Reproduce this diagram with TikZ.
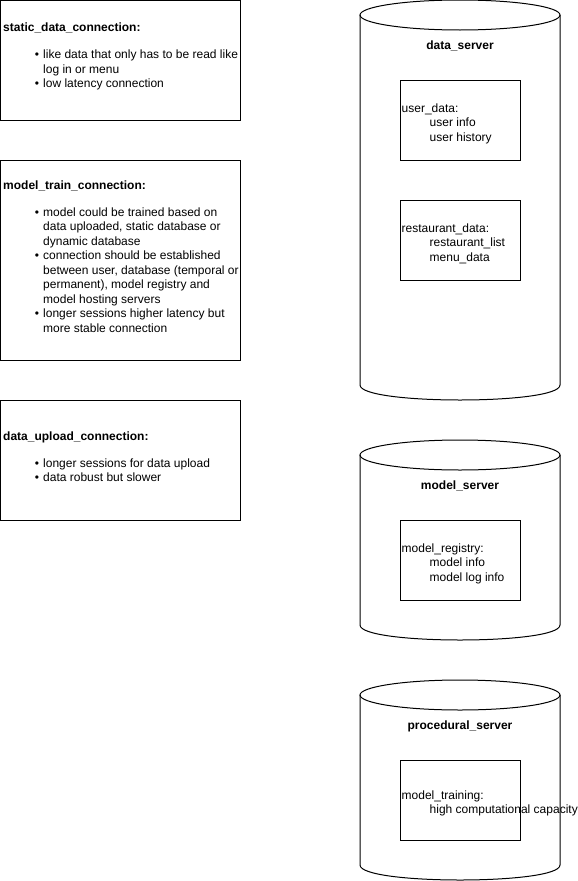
\documentclass[tikz,border=0pt]{standalone}
\usepackage{fontspec}
\setmainfont{Liberation Sans}
\usetikzlibrary{positioning}

\newcommand{\bul}{\makebox[40pt][r]{\textbullet\hspace{4pt}}}
\newcommand{\cont}{\hspace*{40pt}}
\newcommand{\ind}{\hspace*{28pt}}

\begin{document}
\begin{tikzpicture}[
		x=1pt, y=-1pt,
		font=\fontsize{12}{14.5}\selectfont,
		connbox/.style={
			rectangle,
			draw,
			line width=1pt,
			minimum width=240pt,
			minimum height=120pt,
			inner sep=0pt
		},
		conntext/.style={
			align=left,
			inner xsep=3pt,
			inner ysep=0pt,
			yshift=4pt
		},
		server/.style={
			draw,
			line width=1pt
		},
		servername/.style={
			font=\fontsize{12}{14.5}\selectfont\bfseries
		},
		storebox/.style={
			rectangle,
			draw,
			line width=1pt,
			minimum width=120pt,
			minimum height=80pt,
			inner sep=0pt
		},
		storetext/.style={
			align=left,
			inner xsep=2pt,
			inner ysep=0pt,
			yshift=-3.5pt
		}
		]
		
		\useasboundingbox (0,0) rectangle (578,881);
		
		% connection notes
		\node[connbox] (static) at (120.5,60.5) {};
		\node[conntext, anchor=west] (statictxt) at (static.west) {
			\textbf{static\_data\_connection:}\\[12.5pt]
			\bul like data that only has to be read like\\
			\cont log in or menu\\
			\bul low latency connection
		};
		
		\node[connbox, minimum height=200pt] (train) at (120.5,260.5) {};
		\node[conntext, anchor=west] (traintxt) at (train.west) {
			\textbf{model\_train\_connection:}\\[12.5pt]
			\bul model could be trained based on\\
			\cont data uploaded, static database or\\
			\cont dynamic database\\
			\bul connection should be established\\
			\cont between user, database (temporal or\\
			\cont permanent), model registry and\\
			\cont model hosting servers\\
			\bul longer sessions higher latency but\\
			\cont more stable connection
		};
		
		\node[connbox] (upload) at (120.5,460.5) {};
		\node[conntext, anchor=west] (uploadtxt) at (upload.west) {
			\textbf{data\_upload\_connection:}\\[12.5pt]
			\bul longer sessions for data upload\\
			\bul data robust but slower
		};
		
		% servers
		\draw[server] (460,15) ellipse [x radius=100, y radius=15];
		\draw[server] (360,15) -- (360,385) .. controls (360,405) and (560,405) .. (560,385) -- (560,15);
		\node[servername] (dataserver) at (460,46) {data\_server};
		
		\node[storebox] (userdata) at (460,120) {};
		\node[storetext, anchor=west] (userdatatxt) at (userdata.west) {
			user\_data:\\
			\ind user info\\
			\ind user history
		};
		
		\node[storebox] (restdata) at (460,240) {};
		\node[storetext, anchor=west] (restdatatxt) at (restdata.west) {
			restaurant\_data:\\
			\ind restaurant\_list\\
			\ind menu\_data
		};
		
		\draw[server] (460,455) ellipse [x radius=100, y radius=15];
		\draw[server] (360,455) -- (360,625) .. controls (360,645) and (560,645) .. (560,625) -- (560,455);
		\node[servername] (modelserver) at (460,486) {model\_server};
		
		\node[storebox] (registry) at (460,560) {};
		\node[storetext, anchor=west] (registrytxt) at (registry.west) {
			model\_registry:\\
			\ind model info\\
			\ind model log info
		};
		
		\draw[server] (460,695) ellipse [x radius=100, y radius=15];
		\draw[server] (360,695) -- (360,865) .. controls (360,885) and (560,885) .. (560,865) -- (560,695);
		\node[servername] (procserver) at (460,726) {procedural\_server};
		
		\node[storebox] (training) at (460,800) {};
		\node[storetext, anchor=west] (trainingtxt) at (training.west) {
			model\_training:\\
			\ind high computational capacity
		};
		
	\end{tikzpicture}
\end{document}
